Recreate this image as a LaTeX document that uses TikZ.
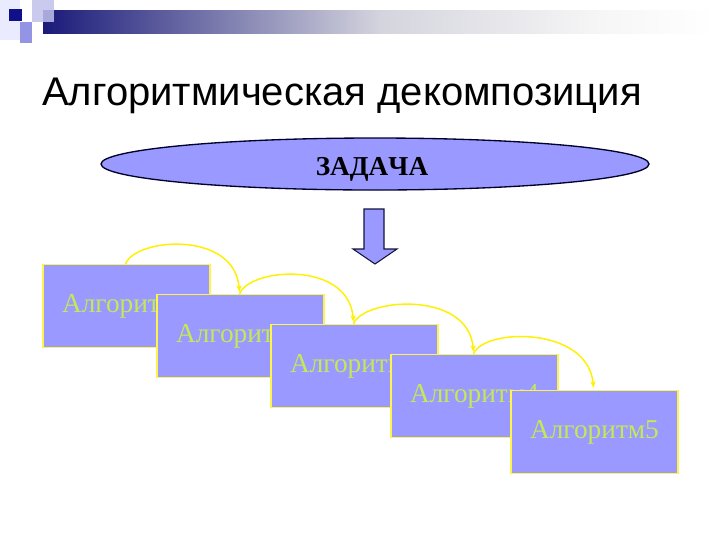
\documentclass[tikz,border=0pt]{standalone}
\usepackage{fontspec}
\setmainfont{Liberation Serif}
\newfontfamily\titlefont{Liberation Sans}
\newfontfamily\taskfont[Kerning=Off]{Liberation Serif}
\usetikzlibrary{shapes.geometric,arrows.meta,calc}
\definecolor{boxfill}{RGB}{153,153,255}
\definecolor{txtgreen}{RGB}{196,232,88}
\definecolor{arcyellow}{RGB}{255,240,0}
\definecolor{navy}{RGB}{16,16,138}
\definecolor{bardark}{RGB}{26,26,122}
\definecolor{barmid}{RGB}{212,212,222}
\definecolor{barlight}{RGB}{246,246,246}
\tikzset{
  algbox/.style={draw=arcyellow!70!white, line width=0.9pt, fill=boxfill, minimum width=125.25pt, minimum height=62.25pt, inner sep=0pt, text=txtgreen, font=\fontsize{20.5}{24}\selectfont},
  flowarc/.style={draw=arcyellow, line width=1.1pt, -{Stealth[length=5pt,width=4pt]}},
}
\begin{document}
\begin{tikzpicture}[x=0.75pt,y=-0.75pt]
\useasboundingbox (0,0) rectangle (720,540);
% top decoration
\fill[blue!8!white] (0,0) rectangle (20,40);
\shade[left color=bardark, right color=barmid] (43,10) rectangle (380.5,33);
\shade[left color=barmid, right color=barlight] (380,10) rectangle (600.5,33);
\shade[left color=barlight, right color=white] (600,10) rectangle (715,33);
\fill[blue!20!white!85!gray, opacity=0.85] (32,0) rectangle (54,22);
\fill[blue!40!white!80!gray] (20,22) rectangle (32,43);
\fill[navy] (9,9) rectangle (22,21);
% title
\node[anchor=base west, inner sep=0pt, font=\titlefont\fontsize{30}{36}\selectfont] (title) at (42,105) {Алгоритмическая декомпозиция};
% task ellipse
\node[ellipse, draw={rgb,255:red,0;green,0;blue,40}, line width=1pt, fill=boxfill, minimum width=411pt, minimum height=39pt, inner sep=0pt] (task) at (375,164) {};
\node[font=\taskfont\bfseries\fontsize{20.5}{24}\selectfont, anchor=base, inner sep=0pt] (tasktxt) at (372,175) {ЗАДАЧА};
% block arrow
\draw[fill=boxfill, draw={rgb,255:red,20;green,20;blue,60}, line width=0.8pt, line join=miter]
  (364,209) -- (384,209) -- (384,249) -- (397,249) -- (375,264) -- (353,249) -- (364,249) -- cycle;
% boxes
\node[algbox] (b1) at (126.5,306) {Алгоритм1};
\node[algbox] (b2) at (240.5,336) {Алгоритм2};
\node[algbox] (b3) at (354.5,366) {Алгоритм3};
\node[algbox] (b4) at (474.5,396) {Алгоритм4};
\node[algbox] (b5) at (594.5,432) {Алгоритм5};
% arcs
\foreach \a/\b in {b1/b2,b2/b3,b3/b4,b4/b5}{
  \draw[flowarc] ($(\a.north)+(-1,0)$) .. controls ($(\a.north)+(9,-26)$) and ($(\b.north)+(-6,-64)$) .. ($(\b.north)+(-1,-2)$);
}
\end{tikzpicture}
\end{document}
